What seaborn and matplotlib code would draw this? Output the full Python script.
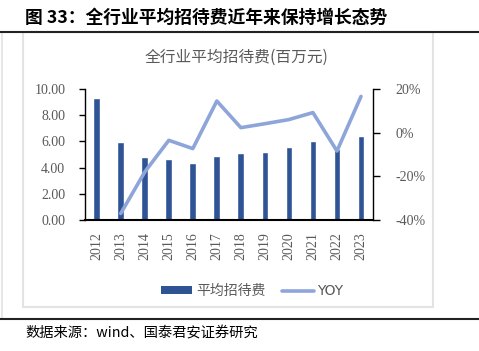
import numpy as np
import pandas as pd
import matplotlib
matplotlib.use("Agg")
import matplotlib.pyplot as plt
from matplotlib.lines import Line2D
from matplotlib.patches import Rectangle, Patch
from matplotlib.ticker import FuncFormatter, FixedLocator
import seaborn as sns

years = ["2012", "2013", "2014", "2015", "2016", "2017",
         "2018", "2019", "2020", "2021", "2022", "2023"]
avg_fee = [9.30, 5.92, 4.80, 4.62, 4.34, 4.90, 5.10, 5.20, 5.56, 6.02, 5.43, 6.38]
yoy = [np.nan, -37.0, -18.0, -3.5, -7.3, 14.5, 2.3, 4.1, 6.0, 9.2, -8.4, 16.6]

fig_title = "图 33：全行业平均招待费近年来保持增长态势"
chart_title = "全行业平均招待费(百万元)"
source = "数据来源：wind、国泰君安证券研究"
bar_label = "平均招待费"
line_label = "YOY"

bar_color = "#2F5496"
line_color = "#8EA5DA"
tick_color = "#595959"

sns.set_style("white")
plt.rcParams["font.family"] = ["Noto Sans CJK SC", "DejaVu Sans"]

df = pd.DataFrame({"year": years, "fee": avg_fee, "yoy": yoy, "pos": np.arange(len(years))})

W, H = 479, 351
fig = plt.figure(figsize=(W / 100, H / 100), dpi=100)

def fx(px):
    return px / W

def fy(py):
    return 1 - py / H

ax = fig.add_axes([fx(84.7), fy(220), fx(373) - fx(84.7), fy(89) - fy(220)])
sns.barplot(data=df, x="year", y="fee", color=bar_color, width=0.28,
            saturation=1, ax=ax)
ax.set_xlim(-0.5, len(years) - 0.5)
ax.set_ylim(0, 10)
ax.yaxis.set_major_locator(FixedLocator([0, 2, 4, 6, 8, 10]))
ax.yaxis.set_major_formatter(FuncFormatter(lambda v, p: f"{v:.2f}"))
ax.set_xlabel("")
ax.set_ylabel("")
for s in ["top", "right"]:
    ax.spines[s].set_visible(False)
ax.spines["left"].set_color("black")
ax.spines["left"].set_linewidth(1.0)
ax.spines["bottom"].set_color("black")
ax.spines["bottom"].set_linewidth(1.5)
ax.tick_params(axis="y", direction="out", length=4, width=1, color="black",
               pad=10, labelsize=10, labelcolor=tick_color)
ax.tick_params(axis="x", length=0, pad=9, labelsize=10, labelcolor=tick_color,
               labelrotation=90)
for lab in ax.get_xticklabels() + ax.get_yticklabels():
    lab.set_family("Liberation Serif")

ax2 = ax.twinx()
line_df = df.dropna(subset=["yoy"])
sns.lineplot(data=line_df, x="pos", y="yoy", color=line_color, linewidth=2.6,
             ax=ax2, legend=False)
ax2.set_ylim(-40, 20)
ax2.yaxis.set_major_locator(FixedLocator([-40, -20, 0, 20]))
ax2.yaxis.set_major_formatter(FuncFormatter(lambda v, p: f"{v:.0f}%"))
ax2.set_xlim(-0.5, len(years) - 0.5)
ax2.set_ylabel("")
ax2.set_xlabel("")
for s in ["top", "left", "bottom"]:
    ax2.spines[s].set_visible(False)
ax2.spines["right"].set_color("black")
ax2.spines["right"].set_linewidth(1.0)
ax2.tick_params(axis="y", direction="out", length=5, width=1, color="black",
                pad=11, labelsize=10, labelcolor=tick_color)
for lab in ax2.get_yticklabels():
    lab.set_family("Liberation Serif")

# Legenda
handles = [Patch(facecolor=bar_color, edgecolor="none"),
           Line2D([0], [0], color=line_color, linewidth=2.6)]
leg = fig.legend(handles, [bar_label, line_label], loc="center",
                 bbox_to_anchor=(fx(252), fy(291)), ncol=2, frameon=False,
                 fontsize=10, handlelength=2.3, handleheight=0.45,
                 columnspacing=1.2, handletextpad=0.25, labelcolor=tick_color)
leg.get_texts()[1].set_family(["Liberation Sans Narrow", "DejaVu Sans"])

# Titels en bron
fig.text(fx(25), fy(18), fig_title, fontsize=12.8, fontweight="bold",
         va="center", ha="left", color="black")
fig.text(fx(236), fy(57), chart_title, fontsize=11.3, va="center", ha="center",
         color="#595959")
fig.text(fx(25), fy(333), source, fontsize=10.3, va="center", ha="left",
         color="black")

# Kaderlijnen
fig.add_artist(Rectangle((fx(23), fy(307)), fx(433) - fx(23), fy(32) - fy(307),
                         transform=fig.transFigure, fill=False,
                         edgecolor="#E3E3E3", linewidth=1.5))
fig.add_artist(Line2D([fx(2), fx(2)], [fy(32), fy(319)], color="#E3E3E3",
                      linewidth=1.2, transform=fig.transFigure))
fig.add_artist(Line2D([0, 1], [fy(32), fy(32)], color="#222222",
                      linewidth=1.5, transform=fig.transFigure))
fig.add_artist(Line2D([0, 1], [fy(319), fy(319)], color="#222222",
                      linewidth=1.5, transform=fig.transFigure))

fig.savefig("out.png", dpi=100)
